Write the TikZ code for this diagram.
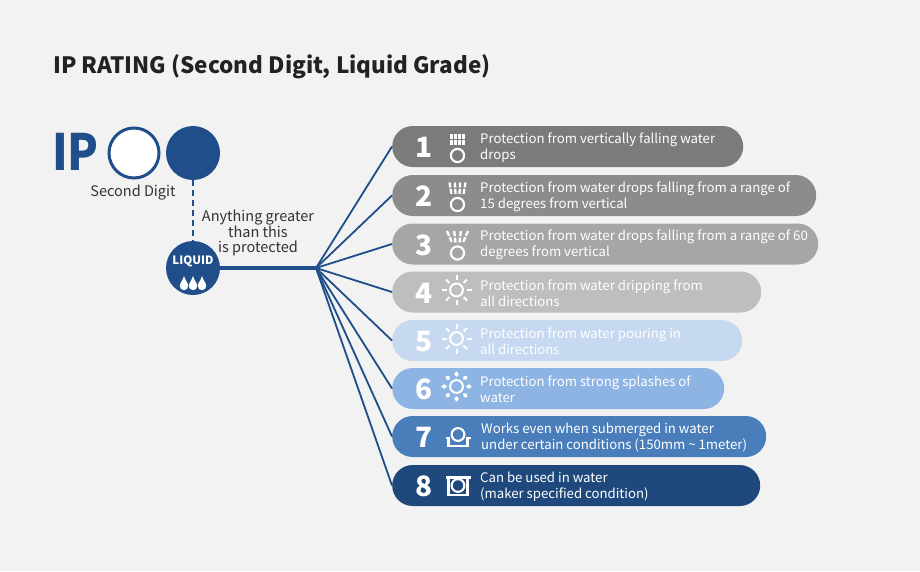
\documentclass[tikz,border=0pt]{standalone}
\usepackage{fontspec}
\setmainfont{Noto Sans CJK KR}
\usetikzlibrary{calc}
\definecolor{bg}{HTML}{F2F2F2}
\definecolor{navy}{HTML}{1F4E8A}
\definecolor{titlec}{HTML}{222222}
\definecolor{txtc}{HTML}{333333}
\definecolor{cA}{HTML}{7B7B7B}
\definecolor{cB}{HTML}{8C8C8C}
\definecolor{cC}{HTML}{A6A6A6}
\definecolor{cD}{HTML}{BEBEBE}
\definecolor{cE}{HTML}{C6D9F1}
\definecolor{cF}{HTML}{8EB4E3}
\definecolor{cG}{HTML}{4A7EBB}
\definecolor{cH}{HTML}{1F497D}
\tikzset{
  barbox/.style={anchor=west, minimum height=41pt, rounded corners=20.5pt, inner sep=0pt},
  numtxt/.style={text=white, font=\bfseries\fontsize{28}{28}\selectfont, inner sep=0pt},
  desc/.style={anchor=west, text=white, align=left, inner sep=0pt, font=\fontsize{13.2}{16}\selectfont},
  iconline/.style={white, line width=2.1pt},
  spoke/.style={navy, line width=1.8pt},
  drop/.pic={\fill[white] (0,-8) .. controls (1.2,-3.5) and (4.2,-1) .. (4.2,2) arc[start angle=0,end angle=180,radius=4.2] .. controls (-4.2,-1) and (-1.2,-3.5) .. (0,-8) -- cycle;},
}
\begin{document}
\begin{tikzpicture}[x=1pt,y=-1pt]
\fill[bg] (0,0) rectangle (920,571);
\useasboundingbox (0,0) rectangle (920,571);

% title
\node[anchor=base west, inner sep=0pt, text=titlec, font=\bfseries\fontsize{22.5}{26}\selectfont] (title) at (53,73) {IP RATING (Second Digit, Liquid Grade)};

% IP and digits
\node[anchor=base west, inner sep=0pt, text=navy, font=\bfseries\fontsize{50}{50}\selectfont] (ip) at (52,170) {\scalebox{0.9}[1]{IP}};
\node[circle, draw=navy, line width=3pt, fill=white, minimum size=50pt, inner sep=0pt] (d1) at (134,153) {};
\node[circle, fill=navy, minimum size=54pt, inner sep=0pt] (d2) at (193,153) {};
\node[text=txtc, inner sep=0pt, font=\fontsize{14.5}{16}\selectfont] (sd) at (133,193) {Second Digit};

% liquid circle
\node[circle, fill=navy, minimum size=54pt, inner sep=0pt] (liq) at (193,268) {};
\node[text=white, inner sep=0pt, font=\bfseries\fontsize{11.5}{11.5}\selectfont] (liqt) at (193,261) {LIQUID};
\pic at (184,284) {drop};
\pic at (193,284) {drop};
\pic at (202,284) {drop};
\draw[navy, line width=2.5pt, dash pattern=on 6pt off 4pt] (d2.south) -- (liq.north);

\node[align=center, text=txtc, inner sep=0pt, font=\fontsize{14.5}{15.5}\selectfont] (any) at (258,233) {Anything greater\\than this\\is protected};

% bars
\node[barbox, fill=cA, minimum width=351pt] (b1) at (392,146.5) {};
\node[barbox, fill=cB, minimum width=424pt] (b2) at (392,195.5) {};
\node[barbox, fill=cC, minimum width=426pt] (b3) at (392,244) {};
\node[barbox, fill=cD, minimum width=369pt] (b4) at (392,292) {};
\node[barbox, fill=cE, minimum width=350pt] (b5) at (392,340.5) {};
\node[barbox, fill=cF, minimum width=332pt] (b6) at (392,388.5) {};
\node[barbox, fill=cG, minimum width=374pt] (b7) at (392,436.5) {};
\node[barbox, fill=cH, minimum width=368pt] (b8) at (392,485.5) {};

% connectors
\coordinate (hub) at (316,268);
\draw[navy, line width=4pt] (liq.east) -- (hub);
\foreach \b in {b1,b2,b3,b4,b5,b6,b7,b8} { \draw[spoke] (hub) -- (\b.west); }

% numbers
\node[numtxt] (n1) at (424,147.5) {1};
\node[numtxt] (n2) at (424,196.5) {2};
\node[numtxt] (n3) at (424,245) {3};
\node[numtxt] (n4) at (424,293) {4};
\node[numtxt] (n5) at (424,341.5) {5};
\node[numtxt] (n6) at (424,389.5) {6};
\node[numtxt] (n7) at (424,437.5) {7};
\node[numtxt] (n8) at (424,486.5) {8};

% texts
\node[desc] (t1) at (480,147.5) {Protection from vertically falling water\\drops};
\node[desc] (t2) at (480,196.5) {Protection from water drops falling from a range of\\15 degrees from vertical};
\node[desc] (t3) at (480,245) {Protection from water drops falling from a range of 60\\degrees from vertical};
\node[desc] (t4) at (480,293) {Protection from water dripping from\\all directions};
\node[desc] (t5) at (480,341.5) {Protection from water pouring in\\all directions};
\node[desc] (t6) at (480,389.5) {Protection from strong splashes of\\water};
\node[desc] (t7) at (481,437.5) {Works even when submerged in water\\under certain conditions (150mm \textasciitilde{} 1meter)};
\node[desc] (t8) at (480,486.5) {Can be used in water\\(maker specified condition)};

% icon 1
\begin{scope}[shift={(457.5,146.5)}]
\draw[iconline] (0,9) circle[radius=6.6];
\foreach \x in {-6,-2,2,6} { \draw[white, line width=2.3pt, dash pattern=on 5pt off 1.5pt] (\x,-13) -- (\x,-1.5); }
\end{scope}
% icon 2
\begin{scope}[shift={(457.5,195.5)}]
\draw[iconline] (0,9) circle[radius=6.6];
\foreach \x/\xt in {-6/-8,-2/-2.6,2/2.6,6/8} { \draw[white, line width=2.3pt, dash pattern=on 5pt off 1.5pt] (\xt,-13) -- (\x,-1.5); }
\end{scope}
% icon 3
\begin{scope}[shift={(457.5,244)}]
\draw[iconline] (0,9) circle[radius=6.6];
\foreach \x/\xt in {-5.5/-10.5,-2/-3.3,2/3.3,5.5/10.5} { \draw[white, line width=2.3pt, dash pattern=on 5.2pt off 1.5pt] (\xt,-13) -- (\x,-1.5); }
\end{scope}
% icons 4 and 5
\foreach \yc in {290,338.5} {
\begin{scope}[shift={(456.5,\yc)}]
\draw[white, line width=2pt] (0,0) circle[radius=6.4];
\foreach \a in {0,45,...,315} { \draw[white, line width=2pt] (\a:10) -- (\a:15); }
\end{scope}
}
% icon 6
\begin{scope}[shift={(456.5,386.5)}]
\draw[white, line width=2pt] (0,0) circle[radius=6.4];
\foreach \a in {0,45,...,315} { \fill[white, rotate=\a] (9.5,0) -- (12.3,-2.3) -- (15.3,0) -- (12.3,2.3) -- cycle; }
\end{scope}
% icon 7
\begin{scope}[shift={(458,436.5)}]
\draw[iconline] (0,-2) circle[radius=6.4];
\draw[iconline, line join=miter] (-12.5,1.5) -- (-9.5,1.5) -- (-9.5,9.5) -- (9.5,9.5) -- (9.5,1.5) -- (12.5,1.5);
\end{scope}
% icon 8
\begin{scope}[shift={(458,485.5)}]
\draw[iconline] (0,0) circle[radius=6.4];
\draw[iconline, line join=miter] (-12.5,-8) -- (12.5,-8);
\draw[iconline, line join=miter] (-9.5,-8) -- (-9.5,9.5) -- (9.5,9.5) -- (9.5,-8);
\end{scope}
\end{tikzpicture}
\end{document}
